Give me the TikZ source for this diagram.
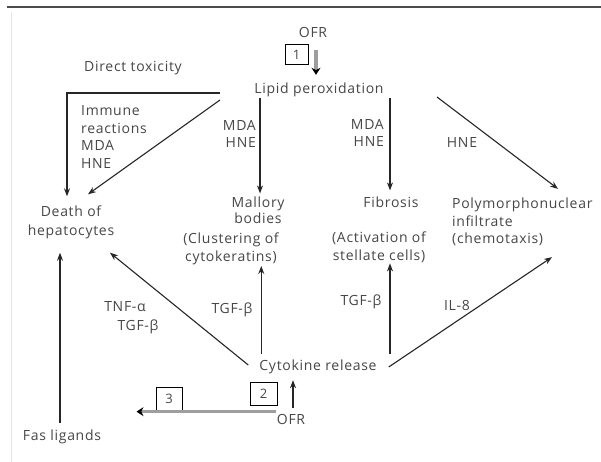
\documentclass[tikz,border=0pt]{standalone}
\usepackage{fontspec}
\setmainfont{Open Sans}[LetterSpace=5]
\usetikzlibrary{arrows.meta,calc}
\begin{document}
\begin{tikzpicture}[x=1pt,y=-1pt,
  txt/.style={text=black!72, font=\fontsize{14}{17.5}\selectfont, inner sep=1pt, align=center},
  arr/.style={-{Stealth[length=8pt,width=6pt]}, line width=1.1pt, black!85},
  grayarr/.style={line width=3.5pt, black!38, -{Stealth[length=7pt,width=9pt,color=black]}},
  numbox/.style={draw=black, line width=1pt, inner sep=0pt, text=black!72, font=\fontsize{13}{15}\selectfont},
  rule/.style={line width=2pt, black!70},
  border/.style={line width=1pt, black!10}
]
\useasboundingbox (0,0) rectangle (601,462);
\fill[white] (0,0) rectangle (601,462);
\draw[rule] (7,7) -- (601,7);
\draw[border] (11,12) -- (11,462);

% nodes
\node[txt] (ofrA) at (313,32) {OFR};
\node[numbox, minimum width=23pt, minimum height=20pt] (b1) at (296.5,55) {1};
\node[txt] (lipid) at (319,90) {Lipid peroxidation};
\node[txt] (direct) at (133,68) {Direct toxicity};
\node[txt, align=left, anchor=west] (immune) at (80,137) {Immune\\reactions\\MDA\\HNE};
\node[txt, align=right, anchor=east] (mdaA) at (257,134) {MDA\\HNE};
\node[txt, font=\fontsize{14}{16}\selectfont] (mallory) at (258,210) {Mallory\\bodies};
\node[txt] (clust) at (231,249) {(Clustering of\\cytokeratins)};
\node[txt, align=right, anchor=east] (mdaB) at (385,133) {MDA\\HNE};
\node[txt] (fib) at (391,202) {Fibrosis};
\node[txt] (activ) at (379,247) {(Activation of\\stellate cells)};
\node[txt] (hne) at (462,143) {HNE};
\node[txt, align=left, anchor=west] (poly) at (451,222) {Polymorphonuclear\\infiltrate\\(chemotaxis)};
\node[txt, font=\fontsize{14}{19}\selectfont] (death) at (71,222) {Death of\\hepatocytes};
\node[txt] (fas) at (62,437) {Fas ligands};
\node[txt] (tnf) at (125,307) {TNF-α};
\node[txt] (tgfA) at (138,327) {TGF-β};
\node[txt] (tgfB) at (232,310) {TGF-β};
\node[txt] (cyto) at (318,367) {Cytokine release};
\node[txt] (tgfC) at (361,302) {TGF-β};
\node[txt] (il8) at (457,305) {IL-8};
\node[numbox, minimum width=27pt, minimum height=23pt] (b2) at (263.5,393.5) {2};
\node[numbox, minimum width=26pt, minimum height=24pt] (b3) at (169,399) {3};
\node[txt] (ofrB) at (291,419) {OFR};

% connectors
\coordinate (g1) at (316,50);
\draw[grayarr] (g1) -- ($(g1 |- lipid.north)+(0,-7)$);

\coordinate (d1) at (220,93);
\draw[arr] (d1) -| ($(death.north)+(-4,-8)$);
\coordinate (d2) at (220,100);
\draw[arr] (d2) -- ($(death.north)+(17,-10)$);

\coordinate (tM) at ($(mallory.north)+(2,-2)$);
\draw[arr] (lipid.south -| tM) -- (tM);
\coordinate (tF) at ($(fib.north)+(-1,-5)$);
\draw[arr] (lipid.south -| tF) -- (tF);

\coordinate (p1) at (437,97);
\draw[arr] (p1) -- ($(poly.north west)+(107,-8)$);

\draw[arr] ($(cyto.west)+(-10,-2)$) -- ($(death.south)+(39,13)$);
\draw[arr] ($(fas.north)+(-2,-6)$) -- ($(death.south)+(-11,13)$);

\coordinate (cA) at ($(cyto.north west)+(3,-5)$);
\draw[arr] (cA) -- (cA |- clust.south);
\coordinate (cB) at ($(cyto.north -| fib.center)+(-1,-5)$);
\draw[arr] (cB) -- (cB |- activ.south);

\draw[arr] ($(cyto.east)+(11,0)$) -- ($(poly.south west)+(101,10)$);

\coordinate (oB) at ($(ofrB.north)+(2,-5)$);
\draw[arr] (oB) -- ($(oB |- cyto.south)+(0,5)$);

\coordinate (gB) at ($(ofrB.north west)+(0,-1)$);
\coordinate (gE) at ($(b3.south west)+(-19,0)$);
\draw[grayarr] (gB) -- (gB -| gE);
\end{tikzpicture}
\end{document}
